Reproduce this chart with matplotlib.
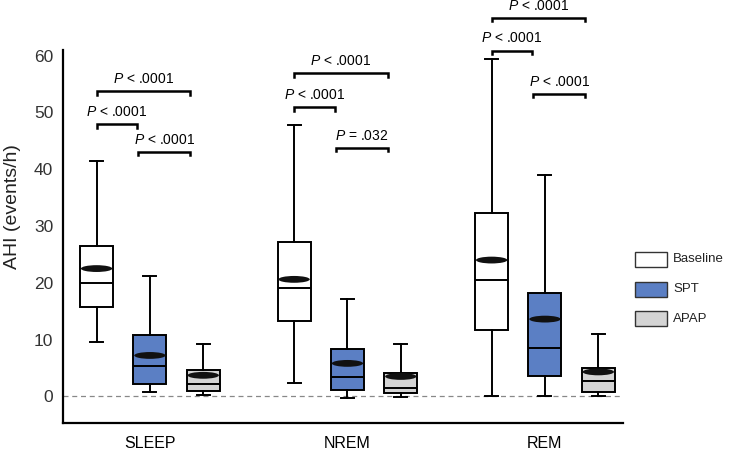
import numpy as np
import matplotlib
matplotlib.use("Agg")
import matplotlib.pyplot as plt
from matplotlib.patches import Ellipse, Rectangle

plt.rcParams['font.family'] = ['Liberation Sans', 'DejaVu Sans']
plt.rcParams['mathtext.fontset'] = 'custom'
plt.rcParams['mathtext.it'] = 'Liberation Sans:italic'
plt.rcParams['mathtext.rm'] = 'Liberation Sans'

# data (AHI, events/h)
groups = ['SLEEP', 'NREM', 'REM']
conditions = ['Baseline', 'SPT', 'APAP']
colors = ['#ffffff', '#5b7fc4', '#d4d4d4']

whis_hi = [[41.5, 21.2, 9.2], [47.8, 17.1, 9.2], [59.4, 39.0, 11.0]]
q3 = [[26.4, 10.8, 4.6], [27.2, 8.3, 4.1], [32.3, 18.2, 5.0]]
means = [[22.5, 7.2, 3.7], [20.6, 5.8, 3.5], [24.0, 13.6, 4.3]]
medians = [[19.9, 5.3, 2.1], [19.0, 3.4, 1.4], [20.5, 8.5, 2.7]]
q1 = [[15.8, 2.1, 0.9], [13.2, 1.1, 0.5], [11.6, 3.5, 0.8]]
whis_lo = [[9.5, 0.7, 0.2], [2.3, -0.3, -0.1], [0.0, 0.0, 0.0]]

# significance brackets: (group, from, to, y, label)
brackets = [
    (0, 0, 2, 53.7, '$\\it{P}$ < .0001'),
    (0, 0, 1, 47.9, '$\\it{P}$ < .0001'),
    (0, 1, 2, 43.1, '$\\it{P}$ < .0001'),
    (1, 0, 2, 56.9, '$\\it{P}$ < .0001'),
    (1, 0, 1, 50.9, '$\\it{P}$ < .0001'),
    (1, 1, 2, 43.8, '$\\it{P}$ = .032'),
    (2, 0, 2, 66.7, '$\\it{P}$ < .0001'),
    (2, 0, 1, 60.9, '$\\it{P}$ < .0001'),
    (2, 1, 2, 53.3, '$\\it{P}$ < .0001'),
]

offsets = [-0.27, 0.0, 0.27]
box_w = 0.167

fig = plt.figure(figsize=(7.36, 4.54), dpi=100)
ax = fig.add_axes([63 / 736, 31 / 454, 560 / 736, 373 / 454])

lw = 1.4
for g in range(len(groups)):
    stats = []
    pos = []
    for c in range(len(conditions)):
        stats.append(dict(med=medians[g][c], q1=q1[g][c], q3=q3[g][c],
                          whislo=whis_lo[g][c], whishi=whis_hi[g][c], fliers=[]))
        pos.append(g + offsets[c])
    bp = ax.bxp(stats, positions=pos, widths=box_w, patch_artist=True,
                showfliers=False, manage_ticks=False, capwidths=0.066,
                boxprops=dict(linewidth=lw, edgecolor='black'),
                whiskerprops=dict(linewidth=lw, color='black'),
                capprops=dict(linewidth=lw, color='black'),
                medianprops=dict(linewidth=lw, color='black'))
    for patch, col in zip(bp['boxes'], colors):
        patch.set_facecolor(col)
    # mean shown as a filled black ellipse
    for c in range(len(conditions)):
        ax.add_patch(Ellipse((pos[c], means[g][c]), box_w * 0.95, 1.2,
                             facecolor='#111111', edgecolor='none', zorder=5))

# brackets
for g, a, b, y, lab in brackets:
    xa = g + offsets[a] - (0 if a == 0 else 0.06)
    xb = g + offsets[b] - 0.065
    ax.plot([xa, xa, xb, xb], [y - 0.6, y, y, y - 0.6], color='black',
            lw=1.8, clip_on=False, solid_joinstyle='miter')
    ax.text((xa + xb) / 2, y + 0.9, lab, ha='center', va='bottom',
            fontsize=10, clip_on=False)

ax.axhline(0, color='#888888', lw=0.9, ls=(0, (4, 3)), zorder=0)

ax.set_xlim(-0.44, 2.395)
ax.set_ylim(-4.7, 61)
ax.set_yticks(np.arange(0, 61, 10))
ax.set_xticks(range(len(groups)))
ax.set_xticklabels(groups)
ax.tick_params(axis='x', length=0, pad=9, labelsize=11.5)
ax.tick_params(axis='y', length=0, pad=7, labelsize=12.5, colors='#333333')
ax.set_ylabel('AHI (events/h)', fontsize=14, color='#222222')
ax.yaxis.set_label_coords(-0.075, 0.58)
for s in ['top', 'right']:
    ax.spines[s].set_visible(False)
for s in ['left', 'bottom']:
    ax.spines[s].set_linewidth(1.6)

# legend drawn by hand
for i, (lab, col) in enumerate(zip(conditions, colors)):
    top = 252 + i * 29.5
    fig.add_artist(Rectangle((635 / 736, 1 - (top + 15) / 454), 32 / 736, 15 / 454,
                             facecolor=col, edgecolor='#333333', lw=1.0,
                             transform=fig.transFigure))
    fig.text(673 / 736, 1 - (top + 7.5) / 454, lab, ha='left', va='center',
             fontsize=9.5, color='#222222')

fig.savefig('out.png', dpi=100)
